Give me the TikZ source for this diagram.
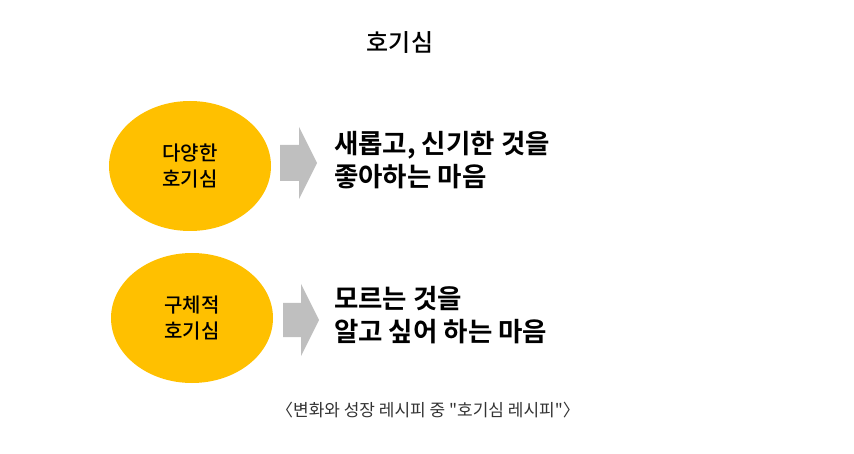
\documentclass[tikz,border=0pt]{standalone}
\usepackage{fontspec}
\setmainfont{Noto Sans CJK KR}
\newfontfamily\krmed{Noto Sans CJK KR Medium}
\newfontfamily\krb{Noto Sans CJK KR Bold}
\newfontfamily\capfont{Noto Sans CJK KR}
\usetikzlibrary{shapes.geometric}
\definecolor{gold}{HTML}{FFC000}
\definecolor{arrgray}{HTML}{BFBFBF}
\tikzset{
  blob/.style={ellipse, fill=gold, draw=none, minimum width=162pt, minimum height=130pt, inner sep=0pt, align=center, font=\krmed\fontsize{20pt}{26pt}\selectfont},
  bigarrow/.style={fill=arrgray, draw=none},
  desc/.style={anchor=west, align=left, font=\krb\fontsize{26.5pt}{33pt}\selectfont, inner sep=0pt},
}
\begin{document}
\begin{tikzpicture}[x=1pt,y=-1pt]
\useasboundingbox (0,0) rectangle (854,454);
\node[font=\krmed\fontsize{24pt}{28pt}\selectfont] (title) at (400,43) {호기심};
\node[blob] (e1) at (190,166) {다양한\\호기심};
\node[blob] (e2) at (192,318) {구체적\\호기심};
\coordinate (a1) at (280,163);
\coordinate (a2) at (283,320);
\fill[bigarrow] (a1) ++(0,-18) -- ++(19,0) -- ++(0,-18) -- ++(18,36) -- ++(-18,36) -- ++(0,-18) -- ++(-19,0) -- cycle;
\fill[bigarrow] (a2) ++(0,-17) -- ++(18,0) -- ++(0,-19) -- ++(18,36) -- ++(-18,36) -- ++(0,-19) -- ++(-18,0) -- cycle;
\node[desc] (t1) at (334,160) {새롭고, 신기한 것을\\좋아하는 마음};
\node[desc] (t2) at (334,315) {모르는 것을\\알고 싶어 하는 마음};
\node[font=\capfont\fontsize{17pt}{20pt}\selectfont, text=black!80] (cap) at (428,410) {〈변화와 성장 레시피 중 "호기심 레시피"〉};
\end{tikzpicture}
\end{document}
